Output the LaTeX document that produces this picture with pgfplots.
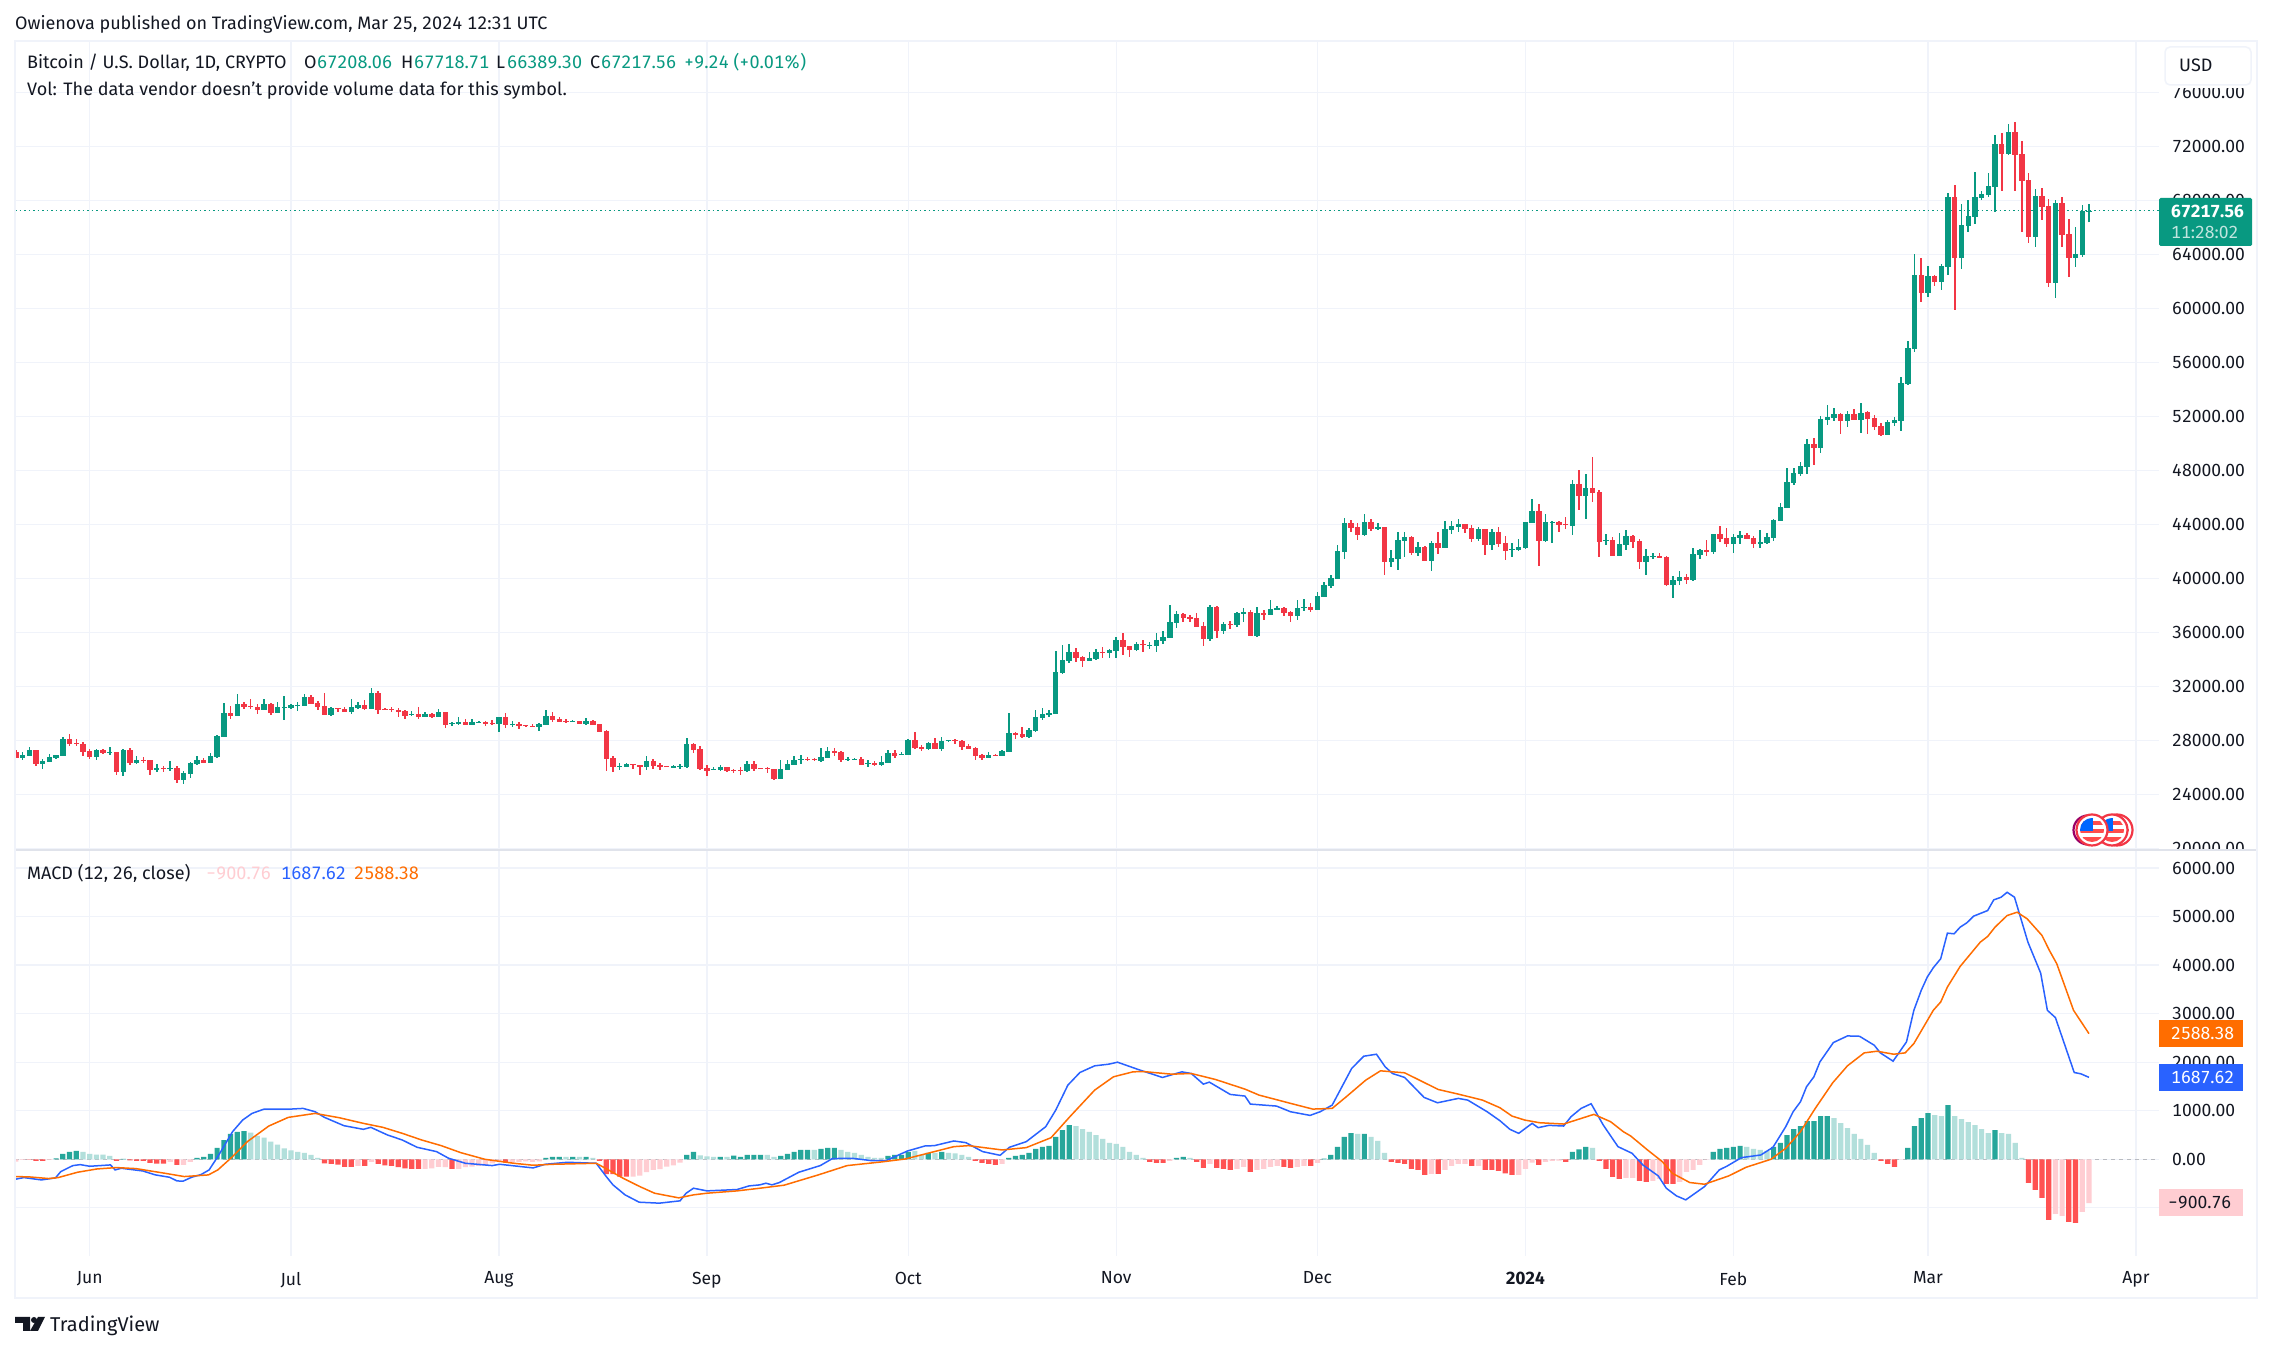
\documentclass[border=0pt]{standalone}
\usepackage{fontspec}
\setmainfont[Numbers={Lining,Monospaced}]{Fira Sans}
\usepackage{pgfplots}
\usepackage{pgfplotstable}
\pgfplotsset{compat=1.18}

\definecolor{upc}{HTML}{089981}
\definecolor{downc}{HTML}{F23645}
\definecolor{gridc}{HTML}{F0F3FA}
\definecolor{framec}{HTML}{E0E3EB}
\definecolor{inkc}{HTML}{131722}
\definecolor{hg}{HTML}{26A69A}
\definecolor{hl}{HTML}{B2DFDB}
\definecolor{hr}{HTML}{FF5252}
\definecolor{hp}{HTML}{FFCDD2}
\definecolor{macdc}{HTML}{2962FF}
\definecolor{sigc}{HTML}{FF6D00}

% daily candles, d = days since 1 Jun 2023
\pgfplotstableread{
d o h l c
-11 27151 27300 26706 26706
-10 26706 27151 26558 26929
-9 26855 27523 26855 27300
-8 27300 27300 26112 26261
-7 26261 26632 25890 26483
-6 26409 27003 26409 26780
-5 26706 26929 26632 26929
-4 26855 28265 26855 28116
-3 28116 28487 27597 27745
-2 27819 28116 27597 27745
-1 27745 27894 26855 27151
0 27226 27374 26632 26780
1 26780 27374 26558 27300
2 27300 27374 27003 27077
3 27077 27523 26929 27151
4 27151 27151 25444 25667
5 25667 27374 25370 27300
6 27300 27448 26187 26335
7 26335 26855 26261 26558
8 26558 26780 26335 26483
9 26558 26558 25444 25815
10 25815 26261 25667 25964
11 25964 26112 25667 25890
12 25890 26483 25741 25964
13 25964 26112 24851 25073
14 25073 25741 24776 25593
15 25519 26409 25222 26335
16 26261 26855 26187 26558
17 26558 26706 26335 26335
18 26335 27077 26335 26855
19 26780 28413 26706 28339
20 28265 30788 28265 30046
21 30046 30565 29601 29823
22 29823 31456 29823 30714
23 30714 30862 30343 30491
24 30565 31085 30343 30491
25 30491 30714 29972 30268
26 30268 31085 30268 30714
27 30714 30788 29897 30046
28 30046 30862 30046 30491
29 30417 31308 29526 30491
30 30417 30714 30343 30640
31 30565 30862 30194 30640
32 30565 31456 30565 31233
33 31233 31382 30714 30714
34 30788 30937 30268 30491
35 30565 31530 29897 29897
36 29897 30491 29823 30417
37 30417 30417 30120 30343
38 30343 30491 30120 30120
39 30120 31085 29972 30491
40 30417 30862 30343 30640
41 30640 31011 30268 30343
42 30343 31901 30343 31530
43 31530 31679 29972 30268
44 30343 30417 30268 30268
45 30343 30491 30120 30268
46 30268 30417 29749 30120
47 30194 30268 29601 29823
48 29897 30194 29823 29972
49 29972 30491 29601 29749
50 29749 30120 29749 29972
51 29972 30046 29675 29749
52 29749 30343 29749 30120
53 30120 30120 28933 29155
54 29230 29378 29081 29304
55 29230 29749 29155 29378
56 29378 29601 29155 29155
57 29155 29601 29155 29378
58 29304 29452 29304 29378
59 29378 29452 29081 29230
60 29304 29526 29155 29230
61 29230 29749 28636 29749
62 29749 30046 28933 29155
63 29155 29452 29007 29230
64 29230 29378 28858 29081
65 29155 29155 29007 29081
66 29081 29230 29007 29007
67 29007 29304 28710 29230
68 29155 30268 29155 29823
69 29823 30120 29378 29526
70 29601 29749 29378 29378
71 29452 29601 29304 29378
72 29378 29526 29378 29452
73 29452 29452 29230 29230
74 29230 29675 29155 29452
75 29452 29526 29155 29155
76 29230 29230 28636 28636
77 28710 28784 25741 26632
78 26706 26855 25667 26038
79 26038 26335 25815 26112
80 26038 26335 26038 26261
81 26261 26261 25890 26187
82 26187 26187 25444 26038
83 26038 26855 25815 26483
84 26483 26632 25890 26112
85 26187 26335 25815 26038
86 26112 26112 26038 26038
87 25964 26187 25964 26112
88 26038 26261 25890 26112
89 26038 28190 25964 27745
90 27745 27819 27077 27300
91 27374 27597 25815 25890
92 25964 26187 25370 25741
93 25815 26038 25815 25890
94 25815 26187 25741 26038
95 26038 26038 25667 25741
96 25815 25890 25593 25741
97 25815 26038 25444 25741
98 25741 26483 25667 26261
99 26261 26483 25741 25890
100 25951 25951 25877 25877
101 25951 26025 25581 25877
102 25877 25877 25062 25136
103 25136 26544 25136 25877
104 25803 26544 25803 26247
105 26173 26840 26173 26544
106 26544 26914 26247 26618
107 26618 26766 26470 26544
108 26618 26692 26470 26544
109 26470 27433 26396 26766
110 26692 27507 26692 27210
111 27210 27433 26840 27062
112 27136 27210 26396 26544
113 26544 26766 26470 26618
114 26544 26692 26544 26618
115 26618 26766 26173 26173
116 26247 26544 26025 26322
117 26322 26470 26099 26173
118 26173 26840 26099 26396
119 26322 27284 26322 27062
120 27062 27284 26692 26840
121 26914 27136 26914 26988
122 26914 28099 26914 28025
123 28025 28618 27358 27433
124 27507 27655 27210 27358
125 27358 27877 27284 27803
126 27803 28173 27358 27358
127 27358 28247 27210 27951
128 27951 28025 27877 28025
129 28025 28099 27729 27951
130 27951 28025 27284 27507
131 27581 27729 27358 27358
132 27433 27507 26544 26840
133 26914 26988 26544 26692
134 26692 27136 26692 26914
135 26914 26988 26840 26840
136 26840 27284 26840 27210
137 27136 30025 27136 28544
138 28544 28618 28099 28396
139 28470 28988 28173 28247
140 28247 28914 28173 28766
141 28692 30247 28618 29729
142 29655 30395 29507 29951
143 29877 30247 29729 30025
144 29951 34617 29951 33062
145 32988 35061 32913 33951
146 33877 35135 33729 34543
147 34543 34839 33803 34099
148 34173 34247 33432 33877
149 33877 34543 33877 34099
150 34025 34765 33951 34543
151 34543 34913 34099 34469
152 34469 34765 34099 34691
153 34617 35654 34099 35432
154 35432 35950 34321 34913
155 34987 34987 34173 34691
156 34691 35284 34617 35135
157 35135 35432 34543 35061
158 34987 35284 34765 35061
159 34987 35950 34543 35432
160 35358 36098 35135 35654
161 35580 38024 35580 36765
162 36691 37580 36321 37358
163 37358 37432 36765 37061
164 37135 37283 36765 36987
165 37061 37432 36395 36395
166 36469 36765 34987 35506
167 35506 38024 35358 37876
168 37876 37950 35580 36098
169 36098 36765 35876 36617
170 36617 36839 36246 36543
171 36543 37506 36395 37432
172 37358 37802 36765 37506
173 37506 37654 35728 35728
174 35728 37876 35654 37432
175 37432 37654 36913 37283
176 37283 38394 37283 37728
177 37654 37950 37654 37802
178 37802 37876 37209 37432
179 37506 37580 36765 37209
180 37209 38394 36913 37802
181 37802 38468 37580 37876
182 37876 38172 37506 37654
183 37654 38987 37654 38691
184 38617 39728 38617 39506
185 39432 40246 39284 40024
186 39950 42469 39950 42024
187 41950 44469 41432 44098
188 44098 44320 43432 43728
189 43802 44098 42839 43209
190 43209 44765 43135 44172
191 44172 44395 43506 43654
192 43654 44098 43580 43802
193 43802 43802 40246 41210
194 41210 42098 40839 41506
195 41432 43432 40617 42839
196 42765 43432 41580 43061
197 43061 43135 41728 41876
198 41876 42691 41654 42321
199 42321 42395 41284 41284
200 41284 42765 40543 42617
201 42617 43432 41802 42246
202 42246 44246 42246 43654
203 43580 44246 43283 43876
204 43802 44395 43432 44024
205 44024 44024 43358 43654
206 43728 43950 42691 42913
207 42913 43802 42765 43654
208 43654 43654 41728 42469
209 42469 43654 42098 43432
210 43432 43802 42321 42543
211 42617 43135 41358 42024
212 42098 42617 41580 42172
213 42098 42913 42024 42321
214 42246 44172 42172 44172
215 44098 45876 44098 44987
216 44987 45506 40913 42765
217 42765 44765 42691 44172
218 44098 44246 42617 44172
219 44172 44246 43432 43950
220 44024 44543 43654 43950
221 43876 47283 43209 46987
222 46987 48024 45061 46098
223 46098 47728 44395 46691
224 46691 48987 45654 46320
225 46394 46543 41580 42691
226 42765 43283 42469 42839
227 42839 43061 41654 41654
228 41654 43358 41654 42543
229 42469 43580 42098 43135
230 43135 43209 42246 42691
231 42765 42913 40691 41210
232 41210 42172 40246 41654
233 41580 41876 41432 41654
234 41654 41876 41506 41506
235 41580 41654 39432 39506
236 39506 40172 38543 39876
237 39802 40543 39506 40098
238 40098 40320 39580 39876
239 39876 42246 39802 41802
240 41728 42172 41432 42098
241 42098 42839 41654 41950
242 41950 43283 41802 43283
243 43283 43876 42691 42913
244 42987 43728 42321 42543
245 42544 43284 41877 43062
246 42989 43506 42544 43210
247 43210 43358 42914 42914
248 42989 43137 42247 42544
249 42544 43581 42247 42692
250 42618 43358 42544 43062
251 42989 44395 42766 44321
252 44247 45580 44247 45284
253 45210 48173 45210 47136
254 47062 48173 46914 47803
255 47729 48618 47580 48321
256 48247 50321 47729 49951
257 49951 50395 48395 49654
258 49654 52025 49284 51802
259 51728 52839 51358 51951
260 51877 52617 51654 52173
261 52173 52247 50691 51654
262 51654 52395 51210 52173
263 52173 52543 51728 51728
264 51728 52988 50766 52247
265 52321 52395 50691 51802
266 51877 52098 50988 51210
267 51284 51506 50543 50617
268 50617 51728 50617 51580
269 51506 51951 51284 51728
270 51654 54913 50914 54469
271 54395 57580 54321 57062
272 56988 64024 56765 62469
273 62469 63729 60470 61136
274 61136 63136 60840 62395
275 62395 62469 61655 61951
276 61951 63284 61358 63136
277 63062 68543 62469 68247
278 68247 69136 59877 63729
279 63729 67728 62914 66173
280 66099 68024 65654 66840
281 66765 70099 66247 68247
282 68173 68691 68024 68469
283 68395 70025 68247 69062
284 68988 72839 67136 72173
285 72173 72987 68691 71432
286 71432 73654 71358 73061
287 73061 73802 68691 71358
288 71432 72395 65654 69432
289 69506 70025 64840 65284
290 65284 68840 64543 68321
291 68321 68913 66543 67506
292 67580 68099 61580 61877
293 61877 68024 60766 67802
294 67802 68247 64543 65432
295 65506 66617 62321 63729
296 63729 66025 63062 64025
297 63951 67654 63803 67208
298 67208.06 67718.71 66389.30 67217.56
}\candles

% histogram: k = 1 dark green, 2 light green, 3 red, 4 pink
\pgfplotstableread{
d v k
-11 -48 4
-10 -14 4
-9 -7 3
-8 -34 3
-7 -34 3
-6 -14 4
-5 21 1
-4 110 1
-3 151 1
-2 171 1
-1 151 2
0 110 2
1 96 2
2 96 2
3 68 2
4 -34 3
5 7 1
6 -21 3
7 -34 3
8 -34 3
9 -75 3
10 -89 3
11 -89 3
12 -55 4
13 -116 3
14 -116 4
15 -55 4
16 27 1
17 48 1
18 110 1
19 233 1
20 397 1
21 521 1
22 562 1
23 582 1
24 548 2
25 480 2
26 445 2
27 363 2
28 301 2
29 226 2
30 185 2
31 151 2
32 130 2
33 89 2
34 27 2
35 -82 3
36 -96 3
37 -110 3
38 -158 3
39 -158 3
40 -137 4
41 -137 3
42 -55 4
43 -96 3
44 -123 3
45 -137 3
46 -164 3
47 -185 3
48 -199 3
49 -199 3
50 -199 4
51 -185 4
52 -158 4
53 -164 4
54 -199 3
55 -199 4
56 -164 4
57 -151 4
58 -137 4
59 -123 4
60 -82 4
61 -41 4
62 -68 3
63 -68 4
64 -55 4
65 -41 4
66 -55 4
67 -41 4
68 27 1
69 48 1
70 48 1
71 48 2
72 48 1
73 48 2
74 48 1
75 27 2
76 -34 3
77 -308 3
78 -308 3
79 -356 3
80 -356 3
81 -356 4
82 -336 4
83 -267 4
84 -219 4
85 -205 4
86 -151 4
87 -123 4
88 -68 4
89 89 1
90 151 1
91 82 2
92 62 2
93 48 2
94 48 1
95 48 2
96 75 1
97 48 1
98 89 1
99 89 1
100 89 1
101 89 2
102 48 2
103 69 1
104 110 1
105 151 1
106 192 1
107 192 1
108 192 2
109 212 1
110 233 1
111 233 1
112 192 2
113 151 2
114 130 2
115 89 2
116 48 2
117 27 2
118 27 2
119 69 1
120 89 1
121 89 1
122 151 1
123 171 2
124 89 2
125 130 1
126 130 2
127 151 1
128 130 2
129 123 2
130 89 2
131 48 2
132 -34 3
133 -75 3
134 -96 3
135 -116 3
136 -96 4
137 27 1
138 69 1
139 89 1
140 130 1
141 212 1
142 253 1
143 274 1
144 459 1
145 603 1
146 706 1
147 685 2
148 623 2
149 562 2
150 500 2
151 418 2
152 336 2
153 315 2
154 253 2
155 151 2
156 89 2
157 27 2
158 -55 3
159 -75 3
160 -75 3
161 -34 4
162 27 1
163 48 1
164 27 2
165 -55 3
166 -178 3
167 -96 4
168 -178 3
169 -199 3
170 -219 3
171 -199 4
172 -158 4
173 -260 3
174 -219 4
175 -199 4
176 -158 4
177 -137 4
178 -158 3
179 -178 3
180 -158 4
181 -137 4
182 -137 3
183 -75 4
184 14 1
185 89 1
186 253 1
187 459 1
188 541 1
189 521 2
190 521 1
191 459 2
192 377 2
193 130 2
194 -55 3
195 -75 3
196 -96 3
197 -199 3
198 -219 3
199 -322 3
200 -301 4
201 -301 3
202 -219 4
203 -137 4
204 -96 4
205 -96 4
206 -137 3
207 -137 4
208 -219 3
209 -219 3
210 -240 3
211 -288 3
212 -322 3
213 -322 4
214 -199 4
215 -69 4
216 -116 3
217 -55 4
218 -34 4
219 -27 4
220 -55 3
221 151 1
222 205 1
223 253 1
224 233 2
225 -34 3
226 -199 3
227 -363 3
228 -404 3
229 -384 4
230 -384 4
231 -445 3
232 -466 3
233 -445 4
234 -404 4
235 -507 3
236 -507 3
237 -466 4
238 -260 4
239 -219 4
240 -116 4
241 -7 4
242 151 1
243 212 1
244 233 1
245 253 1
246 274 1
247 253 2
248 212 2
249 192 2
250 171 2
251 253 1
252 336 1
253 500 1
254 623 1
255 685 1
256 788 1
257 788 1
258 890 1
259 890 1
260 849 2
261 747 2
262 644 2
263 521 2
264 418 2
265 295 2
266 130 2
267 -34 3
268 -96 3
269 -158 3
270 -7 4
271 233 1
272 685 1
273 849 1
274 952 1
275 911 2
276 890 2
277 1116 1
278 890 2
279 829 2
280 767 2
281 705 2
282 623 2
283 541 2
284 603 1
285 541 2
286 521 2
287 336 2
288 27 2
289 -486 3
290 -630 3
291 -795 3
292 -1247 3
293 -1123 4
294 -1164 4
295 -1288 3
296 -1308 3
297 -1082 4
298 -900.76 4
}\hist

\pgfplotstableread{
d v
-11.1 -411
-9.8 -377
-7.2 -425
-5.1 -384
-4.3 -253
-2.5 -130
-1.4 -110
0 -144
3.1 -116
3.8 -219
4.7 -185
7.9 -240
9.8 -322
11.9 -370
13 -445
13.9 -452
15.2 -370
16.6 -315
17.8 -219
19.1 55
21.3 569
22.8 808
24.2 945
26 1034
30 1034
31.8 1048
33.6 980
35 863
37.9 692
40.8 617
41.9 658
44.4 500
46.6 397
48.8 247
51.7 158
53.5 21
56 -82
60 -130
61.1 -103
66.1 -178
67.9 -103
71.2 -62
75.5 -82
77 -356
78 -527
79.8 -733
81.9 -884
84.9 -904
88 -856
88.9 -699
90 -596
92 -651
96.5 -623
98.3 -548
99.9 -527
100.8 -493
101.7 -527
102.8 -479
105.7 -267
108.9 -130
110.7 14
113.6 21
116.5 -27
118.7 -27
121.9 171
124.5 274
125.9 281
128.8 377
130.6 343
133.1 158
135.7 82
137.1 247
139.6 363
142.5 671
144 1014
145.8 1527
147.6 1788
149.8 1925
151.9 1959
153.2 2000
156.3 1849
159.9 1685
162.8 1801
164.2 1767
166 1548
166.9 1589
170 1336
172.2 1302
173 1137
176.9 1096
179 979
181.9 904
183.4 979
185.2 1116
188.1 1870
189.9 2123
191.8 2164
193.1 1904
194.2 1767
196 1685
198.9 1274
200.9 1164
204 1254
205.4 1219
208.3 979
210.2 795
211.7 616
213 534
215 740
215.9 651
217.5 699
219.7 685
220.8 877
222.3 1048
223.8 1144
225.6 706
227.8 260
229.9 123
231.5 -116
233.8 -342
235 -596
236.5 -753
237.9 -836
240.7 -562
242.9 -219
244.1 -137
246.2 34
249.1 89
250.9 247
252.8 671
253.9 979
255 1185
255.9 1493
257 1699
257.9 2007
259.9 2404
262 2541
263.8 2534
266 2349
266.9 2192
268.8 2021
270.8 2418
271.9 3069
273 3480
273.9 3754
274.8 3946
275.9 4131
276.9 4658
277.9 4645
278.8 4782
279.8 4871
280.8 5008
282.9 5124
283.8 5343
284.9 5398
285.8 5500
286.9 5398
288.9 4473
290.8 3836
291.8 3069
293 2918
295.8 1788
296.8 1760
298 1687.62
}\macdline

\pgfplotstableread{
d v
-11.1 -356
-9 -363
-6.1 -397
-4.7 -377
-1.8 -267
1.1 -199
4 -171
6.9 -192
11.2 -288
14.1 -356
17.7 -322
19.1 -219
21.3 55
23.5 363
26.7 685
29.6 863
33.6 945
37.2 856
40.8 740
43.7 658
46.6 534
49.5 397
52.4 281
55.3 137
58.9 0
63.2 -82
66.1 -123
69 -103
75.5 -82
76.6 -164
79.5 -390
82 -562
84.2 -699
87.8 -795
90 -733
92 -699
96.5 -651
99.9 -596
103.5 -534
108.6 -322
112.9 -130
118 -55
121.6 7
128.8 260
131 281
136 192
139.6 240
143.3 445
146.1 877
149.8 1425
152.6 1699
155.5 1801
157 1808
161.3 1753
164.2 1767
167.8 1644
172.2 1445
174.3 1322
179.4 1137
182.3 1034
185.2 1048
187.3 1288
190.2 1630
192.4 1822
196 1781
201 1438
204 1342
207.6 1219
210.2 1062
212 890
213.9 808
216.1 753
219.7 726
224.2 925
226.7 774
228.6 568
229.7 479
232.2 192
234.4 -48
235.9 -288
238.5 -479
240.7 -514
244.3 -343
246.9 -164
250.6 0
252.8 226
255 568
257.2 1048
259.8 1575
262 1925
264.5 2192
266.4 2226
268.9 2164
270.6 2192
271.9 2384
274.8 3069
275.9 3240
276.9 3548
278.8 3973
281.8 4473
282.9 4590
284 4782
285.8 5021
287.3 5089
288.8 4952
291 4610
292.1 4302
293.2 4028
295.7 3069
298 2588.38
}\signalline

\pgfplotsset{
  pane/.style={
    scale only axis, width=2144pt, anchor=south west,
    xmin=-11.13, xmax=308.44,
    xtick={0,30,61,92,122,153,183,214,245,274,305},
    grid=major,
    major grid style={draw=gridc, line width=1.2pt},
    axis line style={draw=none},
    major tick length=0pt,
    ytick pos=right, yticklabel pos=right,
    xtick pos=bottom,
    scaled y ticks=false,
    yticklabel style={
      /pgf/number format/.cd, fixed, fixed zerofill, precision=2, 1000 sep={}, assume math mode=true,
      /tikz/.cd, anchor=west, inner sep=0pt, xshift=13pt, text=inkc, font=\fontsize{17.5}{20}\selectfont},
  },
  wick/.style={only marks, mark size=0pt, mark options={draw=none, fill=none}, color=#1,
    error bars/.cd, y dir=plus, y explicit, error mark=none,
    error bar style={color=#1, line width=1.5pt}},
  body/.style={only marks, mark size=0pt, mark options={draw=none, fill=none}, color=#1,
    error bars/.cd, y dir=plus, y explicit, error mark=none,
    error bar style={color=#1, line width=5.4pt}},
  hbar/.style={ybar, bar width=5.2pt, bar shift=0pt, fill=#1, draw=none},
}

\begin{document}
\begin{tikzpicture}
\useasboundingbox (0,0) rectangle (2273pt,1351pt);
\fill[white] (0,0) rectangle (2273pt,1351pt);

\begin{axis}[pane, at={(15pt,502pt)}, height=808pt,
  ymin=19948, ymax=79800,
  ytick={20000,24000,28000,32000,36000,40000,44000,48000,52000,56000,60000,64000,68000,72000,76000},
  xticklabels={}]
  \addplot[upc, line width=1pt, dash pattern=on 1.5pt off 3pt] coordinates {(-11.13,67217.56) (308.44,67217.56)};
  \addplot[wick=upc] table[x=d, y expr={\thisrow{c}>=\thisrow{o} ? \thisrow{l} : nan}, y error plus expr=\thisrow{h}-\thisrow{l}] {\candles};
  \addplot[wick=downc] table[x=d, y expr={\thisrow{c}<\thisrow{o} ? \thisrow{l} : nan}, y error plus expr=\thisrow{h}-\thisrow{l}] {\candles};
  \addplot[body=upc] table[x=d, y expr={\thisrow{c}>=\thisrow{o} ? \thisrow{o} : nan}, y error plus expr=\thisrow{c}-\thisrow{o}] {\candles};
  \addplot[body=downc] table[x=d, y expr={\thisrow{c}<\thisrow{o} ? \thisrow{c} : nan}, y error plus expr=\thisrow{o}-\thisrow{c}] {\candles};
\end{axis}

\begin{axis}[pane, at={(15pt,95.3pt)}, height=405.7pt,
  ymin=-1986, ymax=6371,
  ytick={-1000,0,1000,2000,3000,4000,5000,6000},
  xticklabels={Jun,Jul,Aug,Sep,Oct,Nov,Dec,\textbf{2024},Feb,Mar,Apr},
  xticklabel style={inner sep=0pt, yshift=-16pt, text=inkc, font=\fontsize{17.5}{20}\selectfont}]
  \addplot[framec!60!gray, line width=1pt, dash pattern=on 4pt off 4pt] coordinates {(-11.13,0) (308.44,0)};
  \addplot[hbar=hg] table[x=d, y expr={\thisrow{k}==1 ? \thisrow{v} : nan}] {\hist};
  \addplot[hbar=hl] table[x=d, y expr={\thisrow{k}==2 ? \thisrow{v} : nan}] {\hist};
  \addplot[hbar=hr] table[x=d, y expr={\thisrow{k}==3 ? \thisrow{v} : nan}] {\hist};
  \addplot[hbar=hp] table[x=d, y expr={\thisrow{k}==4 ? \thisrow{v} : nan}] {\hist};
  \addplot[macdc, line width=1.5pt] table[x=d, y=v] {\macdline};
  \addplot[sigc, line width=1.5pt] table[x=d, y=v] {\signalline};
\end{axis}

% chrome, in reference pixels from the top left corner
\begin{scope}[x=1pt, y=-1pt, yshift=1351pt,
    every node/.style={anchor=base west, inner sep=0pt, text=inkc, font=\fontsize{18}{20}\selectfont}]
  \fill[white] (2160,850) rectangle (2256,861);
  \fill[white] (2160,60) rectangle (2256,88);
  \draw[framec, line width=1.5pt] (15,850) -- (2257,850);
  \draw[gridc, line width=2pt] (15,41) rectangle (2257,1298);
  \filldraw[fill=white, draw=gridc, line width=1.5pt, rounded corners=5pt] (2165,47) rectangle (2251,85);

  \node at (15,30) {Owienova published on TradingView.com, Mar 25, 2024 12:31 UTC};
  \node at (27,69) {Bitcoin / U.S. Dollar, 1D, CRYPTO};
  \node at (304,69) {O}; \node[text=upc] at (317,69) {67208.06};
  \node at (401,69) {H}; \node[text=upc] at (414,69) {67718.71};
  \node at (496,69) {L}; \node[text=upc] at (507,69) {66389.30};
  \node at (590,69) {C}; \node[text=upc] at (601,69) {67217.56};
  \node[text=upc] at (684,69) {+9.24 (+0.01\%)};
  \node at (27,96) {Vol: The data vendor doesn't provide volume data for this symbol.};
  \node at (2179,72) {USD};

  \node at (27,880) {MACD (12, 26, close)};
  \node[text=hp] at (206,880) {−900.76};
  \node[text=macdc] at (281,880) {1687.62};
  \node[text=sigc] at (354,880) {2588.38};

  % last value badges
  \fill[upc, rounded corners=1.5pt] (2159,198) rectangle (2252,246);
  \node[text=white, font=\fontsize{17.5}{20}\selectfont\bfseries] at (2171,218) {67217.56};
  \node[text=white!75!upc, font=\fontsize{17.5}{20}\selectfont] at (2171,239) {11:28:02};
  \fill[sigc] (2159,1020) rectangle (2243,1047);
  \node[text=white, font=\fontsize{17.5}{20}\selectfont] at (2171,1040) {2588.38};
  \fill[macdc] (2159,1064) rectangle (2243,1091);
  \node[text=white, font=\fontsize{17.5}{20}\selectfont] at (2171,1084) {1687.62};
  \fill[hp] (2159,1189) rectangle (2243,1216);
  \node[font=\fontsize{17.5}{20}\selectfont] at (2168,1209) {−900.76};

  % event flags
  \draw[violet!80!red, line width=2.2pt] (2088,830) circle (14.5);
  \foreach \cx in {2117,2112,2092} {
    \filldraw[fill=white, draw=downc, line width=2.2pt] (\cx,830) circle (15.5);
    \begin{scope}
      \clip (\cx,830) circle (12);
      \fill[white] (\cx-12,818) rectangle (\cx+12,842);
      \fill[red!70!white] (\cx-12,821) rectangle (\cx+12,825);
      \fill[red!70!white] (\cx-12,829) rectangle (\cx+12,833);
      \fill[red!70!white] (\cx-12,837) rectangle (\cx+12,842);
      \fill[blue!60!cyan] (\cx-12,818) rectangle (\cx+1,831);
    \end{scope}
  }

  % logo
  \fill[inkc] (15,1317) -- (30,1317) -- (30,1331) -- (23,1331) -- (23,1323) -- (15,1323) -- cycle;
  \fill[inkc] (34,1320) circle (3);
  \fill[inkc] (38,1317) -- (45,1317) -- (38,1331) -- (30,1331) -- cycle;
  \node[font=\fontsize{20}{24}\selectfont] at (50,1332) {TradingView};
\end{scope}
\end{tikzpicture}
\end{document}
